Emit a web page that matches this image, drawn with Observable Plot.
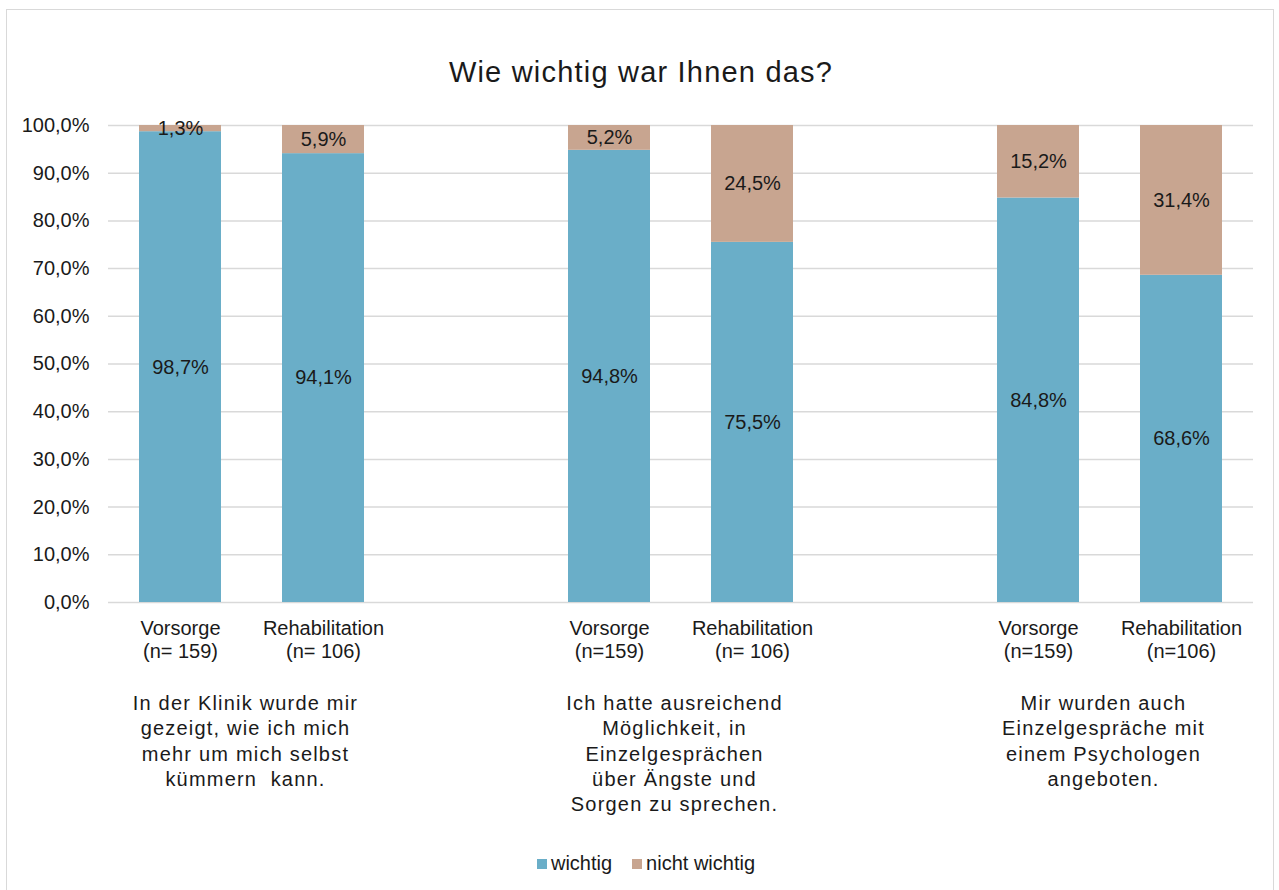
<!DOCTYPE html>
<html>
<head>
<meta charset="utf-8">
<script src="https://cdn.jsdelivr.net/npm/d3@7"></script>
<script src="https://cdn.jsdelivr.net/npm/@observablehq/plot@0.6"></script>
<style>
  html, body { margin: 0; padding: 0; background: #fff; }
  body { width: 1279px; height: 890px; position: relative; overflow: hidden;
         font-family: "Liberation Sans", Arial, sans-serif; color: #1a1a1a; }
  #frame { position: absolute; left: 6px; top: 9px; width: 1268px; height: 900px;
           border: 1.5px solid #d9d9d9; box-sizing: border-box; }
  #title { position: absolute; left: 0; top: 56px; width: 1282px; text-align: center;
           font-size: 29px; line-height: normal; letter-spacing: 1.2px; }
  #chart { position: absolute; left: 0; top: 100px; }
  #legend { position: absolute; left: 0; top: 852px; width: 1292px; display: flex;
            justify-content: center; align-items: center; font-size: 20px; }
  .item { display: flex; align-items: center; margin: 0 10px; }
  .sw { width: 10px; height: 10px; margin-right: 4px; }
  .grp { letter-spacing: 1.2px; }
</style>
</head>
<body>
<div id="frame"></div>
<div id="title">Wie wichtig war Ihnen das?</div>
<div id="chart"></div>
<div id="legend"></div>
<script>
// ---- data ----
const barKeys = ["g1v", "g1r", "g2v", "g2r", "g3v", "g3r"];
const slotKeys = ["g1v", "g1r", "gap1", "g2v", "g2r", "gap2", "g3v", "g3r"];
const barLabels = [
  "Vorsorge\n(n= 159)", "Rehabilitation\n(n= 106)",
  "Vorsorge\n(n=159)", "Rehabilitation\n(n= 106)",
  "Vorsorge\n(n=159)", "Rehabilitation\n(n=106)"
];
const wichtig = [98.7, 94.1, 94.8, 75.5, 84.8, 68.6];
const nichtWichtig = [1.3, 5.9, 5.2, 24.5, 15.2, 31.4];
const seriesNames = ["wichtig", "nicht wichtig"];
const seriesColors = ["#6aaec8", "#c8a590"];
const groupAnchorKeys = ["g1r", "g2r", "g3r"];
const groupTitles = [
  "In der Klinik wurde mir\ngezeigt, wie ich mich\nmehr um mich selbst\nkümmern  kann.",
  "Ich hatte ausreichend\nMöglichkeit, in\nEinzelgesprächen\nüber Ängste und\nSorgen zu sprechen.",
  "Mir wurden auch\nEinzelgespräche mit\neinem Psychologen\nangeboten."
];
const yTicks = [0, 10, 20, 30, 40, 50, 60, 70, 80, 90, 100];

// ---- table ----
const fmt = v => v.toFixed(1).replace(".", ",") + "%";
const rows = [];
barKeys.forEach((k, i) => {
  rows.push({key: k, series: seriesNames[0], value: wichtig[i]});
  rows.push({key: k, series: seriesNames[1], value: nichtWichtig[i]});
});
const tickRows = barKeys.map((k, i) => ({key: k, label: barLabels[i]}));
const groupRows = groupAnchorKeys.map((k, i) => ({key: k, label: groupTitles[i]}));

const chart = Plot.plot({
  width: 1279,
  height: 740,
  marginLeft: 108,
  marginRight: 26,
  marginTop: 25,
  marginBottom: 238,
  style: {fontFamily: "'Liberation Sans', Arial, sans-serif", fontSize: "20px", color: "#1a1a1a", background: "transparent", overflow: "visible"},
  x: {domain: slotKeys, paddingInner: 0.43, paddingOuter: 0.215, axis: null},
  y: {domain: [0, 100], axis: null},
  color: {domain: seriesNames, range: seriesColors},
  marks: [
    Plot.ruleY(yTicks, {stroke: "#d9d9d9", strokeWidth: 1.5}),
    Plot.axisY(yTicks, {tickSize: 0, tickPadding: 19, tickFormat: fmt, fontSize: 20, label: null}),
    Plot.barY(rows, {x: "key", y: "value", fill: "series", order: seriesNames}),
    Plot.text(rows, Plot.stackY({x: "key", y: "value", z: "series", order: seriesNames, text: d => fmt(d.value), fill: "#1a1a1a", fontSize: 20})),
    Plot.text(tickRows, {x: "key", y: 0, text: "label", lineAnchor: "top", dy: 16.5, lineHeight: 1.13, fontSize: 20, fill: "#1a1a1a"}),
    Plot.text(groupRows, {x: "key", y: 0, text: "label", lineAnchor: "top", dy: 89.5, dx: -78, lineHeight: 1.265, fontSize: 20, fill: "#1a1a1a", className: "grp"})
  ]
});
document.getElementById("chart").appendChild(chart);

// ---- legend ----
const legend = document.getElementById("legend");
seriesNames.forEach((s, i) => {
  const item = document.createElement("div");
  item.className = "item";
  const sw = document.createElement("div");
  sw.className = "sw";
  sw.style.background = seriesColors[i];
  const t = document.createElement("span");
  t.textContent = s;
  item.appendChild(sw);
  item.appendChild(t);
  legend.appendChild(item);
});
</script>
</body>
</html>
